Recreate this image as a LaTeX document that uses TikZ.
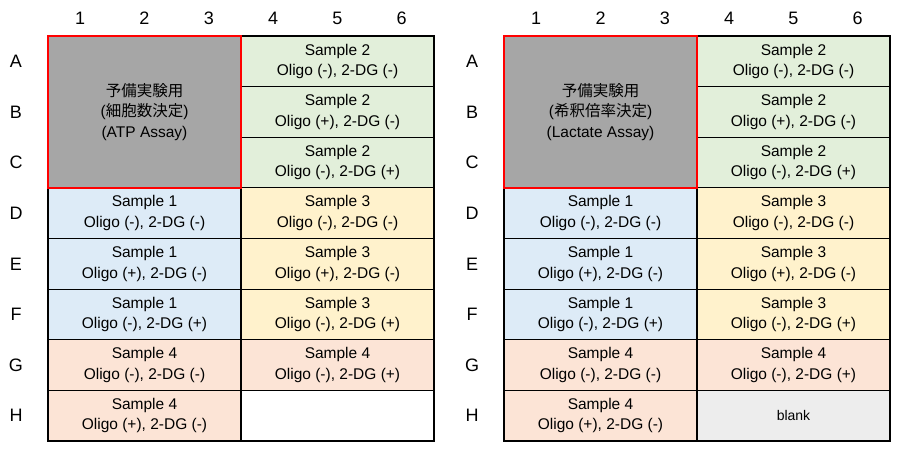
\documentclass[tikz,border=0pt]{standalone}
\usepackage{fontspec}
\setmainfont{Liberation Sans}
\newfontfamily\cjk{Noto Sans CJK JP}
\definecolor{cgray}{HTML}{A6A6A6}
\definecolor{cgreen}{HTML}{E2EFDA}
\definecolor{cblue}{HTML}{DDEBF7}
\definecolor{cyellow}{HTML}{FFF2CC}
\definecolor{corange}{HTML}{FCE4D6}
\definecolor{cblank}{HTML}{EDEDED}
\begin{document}
\begin{tikzpicture}[x=1pt,y=-1pt,
  cell/.style={draw=black,line width=1.1pt,minimum width=193pt,minimum height=50.6pt,inner sep=0pt,align=center,font=\fontsize{15.5}{20.5}\selectfont},
  big/.style={draw=red,line width=1.8pt,fill=cgray,minimum width=193pt,minimum height=151.8pt,inner sep=0pt,align=center,font=\fontsize{15.5}{20.5}\selectfont},
  lab/.style={font=\fontsize{18}{20}\selectfont,inner sep=0pt}]
\useasboundingbox (0,0) rectangle (900,455);
\def\rh{50.625}
\foreach \p/\x in {L/48,R/504}{
  \foreach \n [count=\i] in {1,...,6}{
    \node[lab] (\p n\n) at ({\x+32.2+(\i-1)*64.3},18) {\n};}
  \foreach \l [count=\i] in {A,B,C,D,E,F,G,H}{
    \node[lab] (\p l\l) at ({\x-32},{36+(\i-0.5)*\rh}) {\l};}
  \node[cell,fill=cgreen] (\p A) at ({\x+289.5},{36+0.5*\rh}) {Sample 2\\Oligo (-), 2-DG (-)};
  \node[cell,fill=cgreen] (\p B) at ({\x+289.5},{36+1.5*\rh}) {Sample 2\\Oligo (+), 2-DG (-)};
  \node[cell,fill=cgreen] (\p C) at ({\x+289.5},{36+2.5*\rh}) {Sample 2\\Oligo (-), 2-DG (+)};
  \node[cell,fill=cblue] (\p D1) at ({\x+96.5},{36+3.5*\rh}) {Sample 1\\Oligo (-), 2-DG (-)};
  \node[cell,fill=cblue] (\p E1) at ({\x+96.5},{36+4.5*\rh}) {Sample 1\\Oligo (+), 2-DG (-)};
  \node[cell,fill=cblue] (\p F1) at ({\x+96.5},{36+5.5*\rh}) {Sample 1\\Oligo (-), 2-DG (+)};
  \node[cell,fill=cyellow] (\p D2) at ({\x+289.5},{36+3.5*\rh}) {Sample 3\\Oligo (-), 2-DG (-)};
  \node[cell,fill=cyellow] (\p E2) at ({\x+289.5},{36+4.5*\rh}) {Sample 3\\Oligo (+), 2-DG (-)};
  \node[cell,fill=cyellow] (\p F2) at ({\x+289.5},{36+5.5*\rh}) {Sample 3\\Oligo (-), 2-DG (+)};
  \node[cell,fill=corange] (\p G1) at ({\x+96.5},{36+6.5*\rh}) {Sample 4\\Oligo (-), 2-DG (-)};
  \node[cell,fill=corange] (\p G2) at ({\x+289.5},{36+6.5*\rh}) {Sample 4\\Oligo (-), 2-DG (+)};
  \node[cell,fill=corange] (\p H1) at ({\x+96.5},{36+7.5*\rh}) {Sample 4\\Oligo (+), 2-DG (-)};
}
\node[cell,fill=white] (LH2) at ({48+289.5},{36+7.5*\rh}) {};
\node[cell,fill=cblank] (RH2) at ({504+289.5},{36+7.5*\rh}) {\fontsize{14}{16}\selectfont blank};
\node[big] (Lbig) at ({48+96.5},{36+1.5*\rh}) {{\cjk 予備実験用}\\({\cjk 細胞数決定})\\(ATP Assay)};
\node[big] (Rbig) at ({504+96.5},{36+1.5*\rh}) {{\cjk 予備実験用}\\({\cjk 希釈倍率決定})\\(Lactate Assay)};
\end{tikzpicture}
\end{document}
